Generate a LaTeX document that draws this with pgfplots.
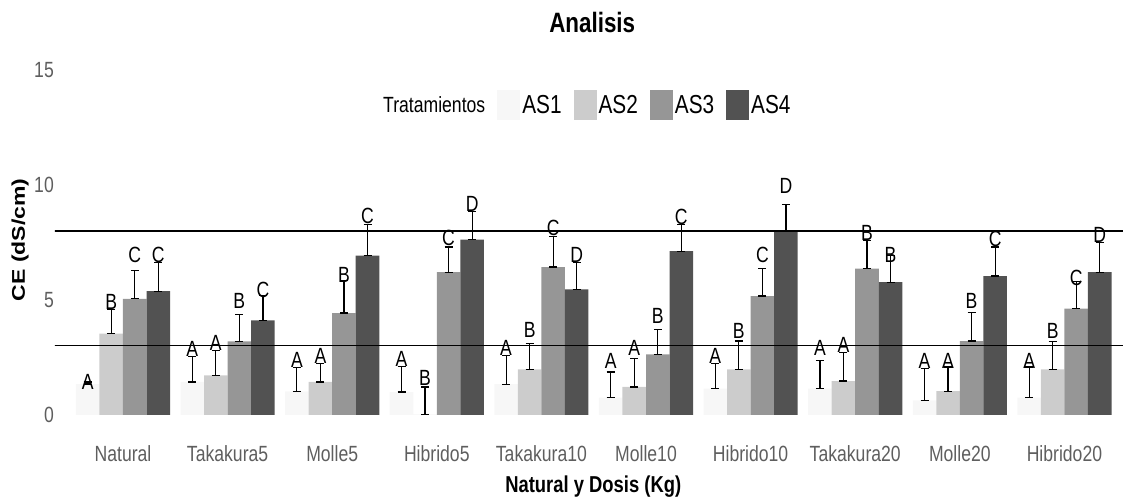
\documentclass[border=0pt]{standalone}
\usepackage{fontspec}
\setmainfont{Liberation Sans}[FakeStretch=0.8]
\newfontfamily\plainsans{Liberation Sans}
\usepackage{graphicx}
\usepackage{pgfplots}
\usepackage{pgfplotstable}
\pgfplotsset{compat=1.18}

\definecolor{as1}{HTML}{F7F7F7}
\definecolor{as2}{HTML}{CCCCCC}
\definecolor{as3}{HTML}{969696}
\definecolor{as4}{HTML}{525252}
\definecolor{txtgray}{HTML}{5E5E5E}
\newcommand\fs[1]{\fontsize{#1}{#1}\selectfont}

% x: group, y: mean, e: sd (upper only), z: lower error, s: letter offset above bar, l: letter
\pgfplotstableread{
x y e z s l
0 1.33 0.10 0 -0.23 A
1 1.43 1.11 0 1.11 A
2 1.02 1.05 0 1.05 A
3 0.99 1.11 0 1.11 A
4 1.33 1.26 0 1.26 A
5 0.75 1.11 0 1.25 A
6 1.14 1.10 0 1.10 A
7 1.14 1.23 0 1.45 A
8 0.63 1.37 0 1.39 A
9 0.75 1.33 0 1.27 A
}\tabA
\pgfplotstableread{
x y e z s l
0 3.53 1.04 0 1.04 B
1 1.72 1.08 0 1.08 A
2 1.43 0.81 0 0.81 A
3 0.00 1.21 0 1.27 B
4 1.98 1.12 0 1.37 B
5 1.21 1.23 0 1.38 A
6 1.98 1.23 0 1.35 B
7 1.47 1.23 0 1.25 A
8 1.03 1.05 0 0.99 A
9 1.98 1.22 0 1.35 B
}\tabB
\pgfplotstableread{
x y e z s l
0 5.05 1.23 0 1.58 C
1 3.20 1.16 0 1.40 B
2 4.43 1.42 0 1.33 B
3 6.21 1.09 0 1.16 C
4 6.43 1.33 0 1.37 C
5 2.63 1.07 0 1.34 B
6 5.17 1.19 0 1.46 C
7 6.36 1.22 0 1.22 B
8 3.21 1.23 0 1.42 B
9 4.62 1.18 0 1.01 C
}\tabC
\pgfplotstableread{
x y e z s l
0 5.38 1.24 0 1.24 C
1 4.11 1.09 0 0.99 C
2 6.93 1.35 0 1.37 C
3 7.63 1.22 0 1.22 D
4 5.46 1.17 0 1.17 D
5 7.12 1.16 0 1.16 C
6 8.02 1.12 0 1.61 D
7 5.77 1.18 0 0.83 B
8 6.04 1.26 0 1.26 C
9 6.21 1.28 0 1.28 D
}\tabD

\pgfplotsset{
  bars/.style={ybar, bar width=0.225, bar shift=0, draw=none, fill=#1,
    error bars/.cd, y dir=both, y explicit,
    error bar style={black, line width=1.2pt},
    error mark options={rotate=90, black, line width=1.2pt, mark size=4pt},
    /pgfplots/.cd,
    nodes near coords, point meta=explicit symbolic,
    visualization depends on={\thisrow{s}\as\ls},
    every node near coord/.append style={shift={(axis direction cs:0,\ls)},
      anchor=south, inner sep=0pt, font=\fs{22}, text=black},
    legend image code/.code={\fill[fill=#1] (0pt,-15pt) rectangle (23pt,15pt);}},
}

\begin{document}
\begin{tikzpicture}
\path[use as bounding box] (-55pt,-66pt) rectangle (1068pt,432pt);
\begin{axis}[
  at={(0pt,0pt)}, anchor=south west,
  scale only axis, width=1068pt, height=379pt,
  xmin=-0.65, xmax=9.56, ymin=-0.75, ymax=15.75,
  axis line style={draw=none}, tick style={draw=none},
  xtick={0,...,9},
  xticklabels={Natural,Takakura5,Molle5,Hibrido5,Takakura10,Molle10,Hibrido10,Takakura20,Molle20,Hibrido20},
  ytick={0,5,10,15},
  /pgf/number format/assume math mode=true,
  tick label style={font=\fs{22}, text=txtgray},
  yticklabel style={inner sep=1pt},
  xticklabel style={inner sep=0pt, yshift=-13pt},
  title={Analisis},
  title style={at={(0.503,1)}, anchor=base, yshift=14pt, font=\bfseries\fs{28}},
  xlabel={Natural y Dosis (Kg)},
  xlabel style={at={(axis description cs:0.504,0)}, anchor=base, yshift=-60pt, font=\bfseries\fs{23}},
  ylabel={\scalebox{1}[0.8]{\plainsans\bfseries\fs{23}CE (dS/cm)}},
  ylabel style={at={(axis description cs:0,0.507)}, anchor=center, yshift=35pt},
  legend columns=-1,
  legend style={at={(0.498,0.863)}, anchor=center, draw=none, fill=none,
    font=\fs{26}, inner sep=0pt, nodes={inner sep=2pt},
    /tikz/every even column/.append style={column sep=10pt}},
]
\addlegendimage{empty legend}
\addplot[bars=as1] table[x expr=\thisrow{x}-0.3375, y=y, y error plus=e, y error minus=z, meta=l] {\tabA};
\addplot[bars=as2] table[x expr=\thisrow{x}-0.1125, y=y, y error plus=e, y error minus=z, meta=l] {\tabB};
\addplot[bars=as3] table[x expr=\thisrow{x}+0.1125, y=y, y error plus=e, y error minus=z, meta=l] {\tabC};
\addplot[bars=as4] table[x expr=\thisrow{x}+0.3375, y=y, y error plus=e, y error minus=z, meta=l] {\tabD};
\addplot[black, line width=1.2pt, forget plot] coordinates {(-1,3) (10,3)};
\addplot[black, line width=1.2pt, forget plot] coordinates {(-1,8) (10,8)};
\legend{{\fs{22}Tratamientos},AS1,AS2,AS3,AS4}
\end{axis}
\end{tikzpicture}
\end{document}
